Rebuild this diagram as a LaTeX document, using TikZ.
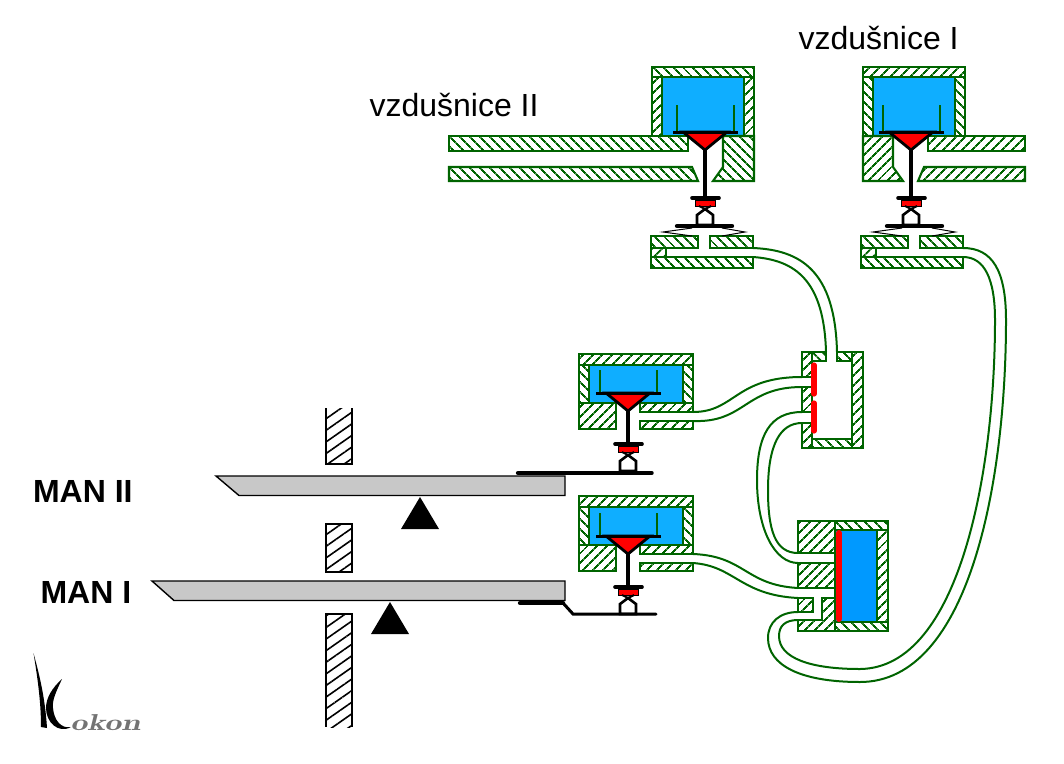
\documentclass[tikz,border=0pt]{standalone}
\usepackage{fontspec}
\setmainfont{Liberation Sans}
\usetikzlibrary{patterns.meta}
\definecolor{tubegreen}{RGB}{0,100,0}
\definecolor{airblue}{RGB}{15,174,255}
\definecolor{pistonblue}{RGB}{0,153,255}
\definecolor{levergray}{RGB}{200,200,200}
\tikzset{
  hatchne/.style={draw=tubegreen,line width=2.1pt,pattern={Lines[angle=45,distance=7.4pt,line width=2.2pt]},pattern color=tubegreen},
  hatchnw/.style={draw=tubegreen,line width=2.1pt,pattern={Lines[angle=-45,distance=7.4pt,line width=2.2pt]},pattern color=tubegreen},
  wallhatch/.style={draw=black,line width=1.5pt,pattern={Lines[angle=35,distance=9.5pt,line width=1.6pt]},pattern color=black},
  tube/.style={draw=tubegreen,line width=2pt},
  airfill/.style={fill=airblue,draw=tubegreen,line width=2.1pt},
  leverbar/.style={fill=levergray,draw=black,line width=1.4pt},
  label/.style={anchor=base west,font=\fontsize{32}{36}\selectfont},
  manlabel/.style={anchor=base west,font=\fontsize{32}{36}\selectfont\bfseries}
}
\begin{document}
\begin{tikzpicture}[x=1pt,y=-1pt]
  \useasboundingbox (0,0) rectangle (1064,763);
  % vzdusnice II
  \draw[hatchnw] (652,67) rectangle (754,77);
  \draw[hatchne] (652,77) rectangle (662,136);
  \draw[hatchne] (744,77) rectangle (754,136);
  \draw[airfill] (662,77) rectangle (744,136);
  \draw[hatchnw] (449,136) rectangle (688,151);
  \draw[hatchnw] (449,167) -- (692,167) -- (698,181) -- (449,181) -- cycle;
  \draw[hatchnw] (723,136) -- (754,136) -- (754,181) -- (713,181) -- (723,167) -- cycle;
  % vzdusnice I
  \draw[hatchne] (863,67) rectangle (965,77);
  \draw[hatchnw] (863,77) rectangle (873,136);
  \draw[hatchnw] (955,77) rectangle (965,136);
  \draw[airfill] (873,77) rectangle (955,136);
  \draw[hatchne] (863,136) -- (893,136) -- (893,167) -- (903,181) -- (863,181) -- cycle;
  \draw[hatchne] (928,136) rectangle (1025,151);
  \draw[hatchne] (924,167) -- (1025,167) -- (1025,181) -- (918,181) -- cycle;
  % manual valves
  \foreach \my in {0,142}{
    \begin{scope}[shift={(0,\my)}]
      \draw[hatchne] (579,354) rectangle (693,365);
      \draw[hatchnw] (579,365) rectangle (589,403);
      \draw[hatchnw] (683,365) rectangle (693,403);
      \draw[airfill] (589,365) rectangle (683,403);
      \draw[hatchne] (579,403) rectangle (616,429);
      \draw[hatchne] (640,403) rectangle (693,412);
      \draw[hatchne] (640,421) rectangle (693,429);
    \end{scope}
  }
  % discs and stems
  \foreach \cx/\py/\sl/\gl in {705/132/66/27,911/132/66/27,628/393/51/23,628/536/51/23}{
    \begin{scope}[shift={(\cx,\py)}]
      \draw[tubegreen,line width=2pt] (-28,-\gl) -- (-28,0);
      \draw[tubegreen,line width=2pt] (29,-\gl) -- (29,0);
      \draw[black,line width=3.6pt] (0,18) -- (0,\sl);
      \draw[black,line width=2.8pt,fill=red] (-22,0) -- (22,0) -- (0,18) -- cycle;
      \draw[black,line width=3pt] (-32,0) -- (33,0);
      \draw[black,line width=3.6pt,line cap=round] (-13,\sl) -- (14,\sl);
      \fill[red,draw=black,line width=0.6pt] (-10,\sl+2) rectangle (10,\sl+8);
      \draw[black,line width=2.6pt,fill=white] (-8,\sl+27) -- (-8,\sl+17) -- (0,\sl+11) -- (8,\sl+17) -- (8,\sl+27) -- cycle;
      \draw[black,line width=2pt] (-6,\sl+8) -- (0,\sl+11) -- (6,\sl+8);
    \end{scope}
  }
  % diaphragm boxes
  \foreach \bx in {651,861}{
    \begin{scope}[shift={(\bx,0)}]
      \draw[hatchnw] (0,236) rectangle (47,248);
      \draw[hatchnw] (59,236) rectangle (102,248);
      \draw[hatchne] (0,248) rectangle (15,257);
      \draw[hatchnw] (0,257) rectangle (102,268);
      \draw[black,line width=1pt] (41,228) -- (12,232) -- (41,236);
      \draw[black,line width=1pt] (71,228) -- (94,232) -- (71,236);
      \draw[black,line width=4.4pt,line cap=round] (26,226) -- (81,226);
    \end{scope}
  }
  % switch box
  \draw[hatchne] (802,352) rectangle (812,377);
  \draw[hatchne] (802,387) rectangle (812,412);
  \draw[hatchne] (802,423) rectangle (812,448);
  \draw[hatchnw] (812,352) rectangle (826,361);
  \draw[hatchnw] (837,352) rectangle (852,361);
  \draw[hatchne] (852,352) rectangle (863,448);
  \draw[hatchnw] (812,439) rectangle (852,448);
  \draw[red,line width=5.2pt,line cap=round] (814,365) -- (814,394);
  \draw[red,line width=5.2pt,line cap=round] (814,403) -- (814,431);
  % piston box
  \draw[hatchne] (798,521) rectangle (835,553);
  \draw[hatchne] (798,563) rectangle (835,588);
  \draw[hatchne] (798,598) rectangle (813,612);
  \draw[hatchne] (822,598) -- (835,598) -- (835,631) -- (798,631) -- (798,620) -- (822,620) -- cycle;
  \draw[hatchnw] (835,521) rectangle (888,530);
  \draw[hatchnw] (835,622) rectangle (888,631);
  \draw[hatchne] (877,530) rectangle (888,622);
  \draw[fill=pistonblue,draw=tubegreen,line width=2.1pt] (835,530) rectangle (877,622);
  \draw[red,line width=6pt,line cap=round] (839,533) -- (839,619);
  % tubes
  \draw[tube] (753,248) .. controls (800,250) and (835,270) .. (837,352);
  \draw[tube] (753,257) .. controls (795,260) and (824,280) .. (826,352);
  \draw[tube] (693,412) .. controls (735,412) and (735,377) .. (802,377);
  \draw[tube] (693,421) .. controls (745,423) and (745,387) .. (802,387);
  \draw[tube] (802,412) .. controls (770,412) and (757,435) .. (757,480) .. controls (757,530) and (775,563) .. (798,563);
  \draw[tube] (802,423) .. controls (780,423) and (768,445) .. (768,490) .. controls (768,530) and (775,553) .. (798,553);
  \draw[tube] (693,554) .. controls (745,556) and (745,585) .. (798,588);
  \draw[tube] (693,563) .. controls (735,566) and (740,595) .. (798,598);
  \draw[tube] (963,248) .. controls (992,248) and (1006,270) .. (1006,320) .. controls (1006,480) and (970,682) .. (860,682) .. controls (800,682) and (768,665) .. (768,638) .. controls (768,622) and (780,612) .. (798,612);
  \draw[tube] (963,257) .. controls (985,257) and (995,280) .. (995,320) .. controls (995,470) and (960,668) .. (860,669) .. controls (810,669) and (779,658) .. (779,636) .. controls (779,626) and (785,620) .. (798,620);
  % stop walls
  \draw[wallhatch] (326,408) -- (326,464) -- (352,464) -- (352,408);
  \draw[wallhatch] (326,524) rectangle (352,572);
  \draw[wallhatch] (352,727) -- (352,614) -- (326,614) -- (326,727);
  % keys
  \draw[leverbar] (216,476) -- (565,476) -- (565,495.5) -- (239,495.5) -- cycle;
  \draw[leverbar] (152,581) -- (565,581) -- (565,600.5) -- (174,600.5) -- cycle;
  \fill[black] (420,497) -- (439,529) -- (401,529) -- cycle;
  \fill[black] (390,602) -- (409,634) -- (371,634) -- cycle;
  \draw[black,line width=4.4pt,line cap=round] (518,473) -- (565,473);
  \draw[black,line width=3.4pt,line cap=round] (565,473) -- (652,473);
  \draw[black,line width=4.4pt,line cap=round] (520,603) -- (563,603);
  \draw[black,line width=3pt,line cap=round] (563,603) -- (573,614) -- (656,614);
  % labels
  \node[label] (vzdone) at (795,49) {vzdušnice I};
  \node[label] (vzdtwo) at (366,116) {vzdušnice II};
  \node[manlabel] (mantwo) at (29.5,502) {MAN II};
  \node[manlabel] (manone) at (37,603) {MAN I};
  % signature
  \fill[black] (33.5,653) .. controls (38,670) and (45,695) .. (47,728) -- (41,727) .. controls (41,700) and (37,675) .. (33.5,653) -- cycle;
  \fill[black] (62,679) .. controls (52,688) and (46,698) .. (46,708) .. controls (46,722) and (58,734) .. (71,727) .. controls (61,729) and (54,720) .. (53,708) .. controls (52,700) and (56,692) .. (62,679) -- cycle;
  \node[anchor=base west,text=black!55,inner sep=0pt,xscale=1.48,transform shape,font=\fontfamily{lmr}\fontsize{23}{26}\selectfont\itshape\bfseries] (signame) at (70,730) {okon};
\end{tikzpicture}
\end{document}
